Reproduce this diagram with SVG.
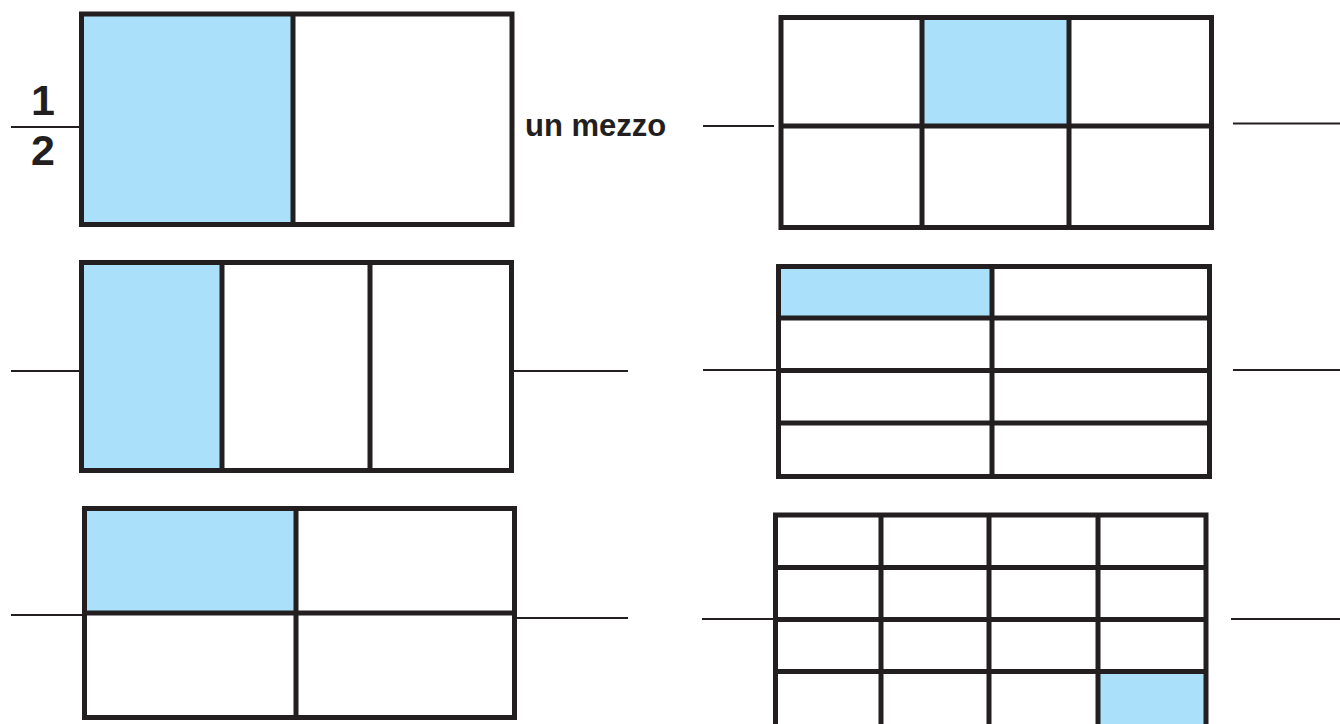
<svg xmlns="http://www.w3.org/2000/svg" width="1340" height="724" viewBox="0 0 1340 724">
<style>
.fill{fill:#abe0fa;stroke:none}
.frame{fill:none;stroke:#231f20;stroke-width:5}
.div{stroke:#231f20;stroke-width:5;fill:none}
.ans{stroke:#231f20;stroke-width:2;fill:none}
.num{font-family:"Liberation Sans",Arial,sans-serif;font-weight:bold;font-size:43px;fill:#231f20;text-anchor:middle}
.lbl{font-family:"Liberation Sans",Arial,sans-serif;font-weight:bold;font-size:31px;fill:#231f20}
</style>
<rect width="1340" height="724" fill="#ffffff"/>
<g id="box-half">
<rect class="fill" x="81.5" y="14" width="211.5" height="210.5"/>
<rect class="frame" x="81.5" y="14" width="430.5" height="210.5"/>
<line class="div" x1="293" y1="14" x2="293" y2="224.5"/>
</g>
<g id="box-sixth">
<rect class="fill" x="922" y="17.5" width="147" height="108.5"/>
<rect class="frame" x="781" y="17.5" width="430.5" height="210"/>
<line class="div" x1="922" y1="17.5" x2="922" y2="227.5"/>
<line class="div" x1="1069" y1="17.5" x2="1069" y2="227.5"/>
<line class="div" x1="781" y1="126" x2="1211.5" y2="126"/>
</g>
<g id="box-third">
<rect class="fill" x="81.5" y="262.5" width="140.5" height="208"/>
<rect class="frame" x="81.5" y="262.5" width="430" height="208"/>
<line class="div" x1="222" y1="262.5" x2="222" y2="470.5"/>
<line class="div" x1="370" y1="262.5" x2="370" y2="470.5"/>
</g>
<g id="box-eighth">
<rect class="fill" x="778.5" y="266.5" width="213.5" height="51.5"/>
<rect class="frame" x="778.5" y="266.5" width="431" height="210"/>
<line class="div" x1="992" y1="266.5" x2="992" y2="476.5"/>
<line class="div" x1="778.5" y1="318" x2="1209.5" y2="318"/>
<line class="div" x1="778.5" y1="370.5" x2="1209.5" y2="370.5"/>
<line class="div" x1="778.5" y1="423" x2="1209.5" y2="423"/>
</g>
<g id="box-quarter">
<rect class="fill" x="84.5" y="508.5" width="211.5" height="104.5"/>
<rect class="frame" x="84.5" y="508.5" width="430" height="209"/>
<line class="div" x1="296" y1="508.5" x2="296" y2="717.5"/>
<line class="div" x1="84.5" y1="613" x2="514.5" y2="613"/>
</g>
<g id="box-sixteenth">
<rect class="fill" x="1098" y="671.5" width="108" height="60"/>
<rect class="frame" x="775.5" y="515" width="430.5" height="217"/>
<line class="div" x1="881" y1="515" x2="881" y2="732"/>
<line class="div" x1="989" y1="515" x2="989" y2="732"/>
<line class="div" x1="1098" y1="515" x2="1098" y2="732"/>
<line class="div" x1="775.5" y1="567.5" x2="1206" y2="567.5"/>
<line class="div" x1="775.5" y1="619.5" x2="1206" y2="619.5"/>
<line class="div" x1="775.5" y1="671.5" x2="1206" y2="671.5"/>
</g>
<g id="connectors">
<line class="ans" x1="11" y1="127" x2="79" y2="127"/>
<line class="ans" x1="703" y1="126" x2="774" y2="126"/>
<line class="ans" x1="1233" y1="123.5" x2="1340" y2="123.5"/>
<line class="ans" x1="11" y1="371" x2="79" y2="371"/>
<line class="ans" x1="514" y1="371" x2="628" y2="371"/>
<line class="ans" x1="703" y1="370" x2="776" y2="370"/>
<line class="ans" x1="1233" y1="370" x2="1340" y2="370"/>
<line class="ans" x1="11" y1="615" x2="82" y2="615"/>
<line class="ans" x1="517" y1="618" x2="628" y2="618"/>
<line class="ans" x1="702" y1="619" x2="773" y2="619"/>
<line class="ans" x1="1231" y1="619" x2="1340" y2="619"/>
</g>
<g id="labels">
<text class="num" x="43" y="115">1</text>
<text class="num" x="43" y="165">2</text>
<text class="lbl" x="525" y="136">un mezzo</text>
</g>
</svg>
